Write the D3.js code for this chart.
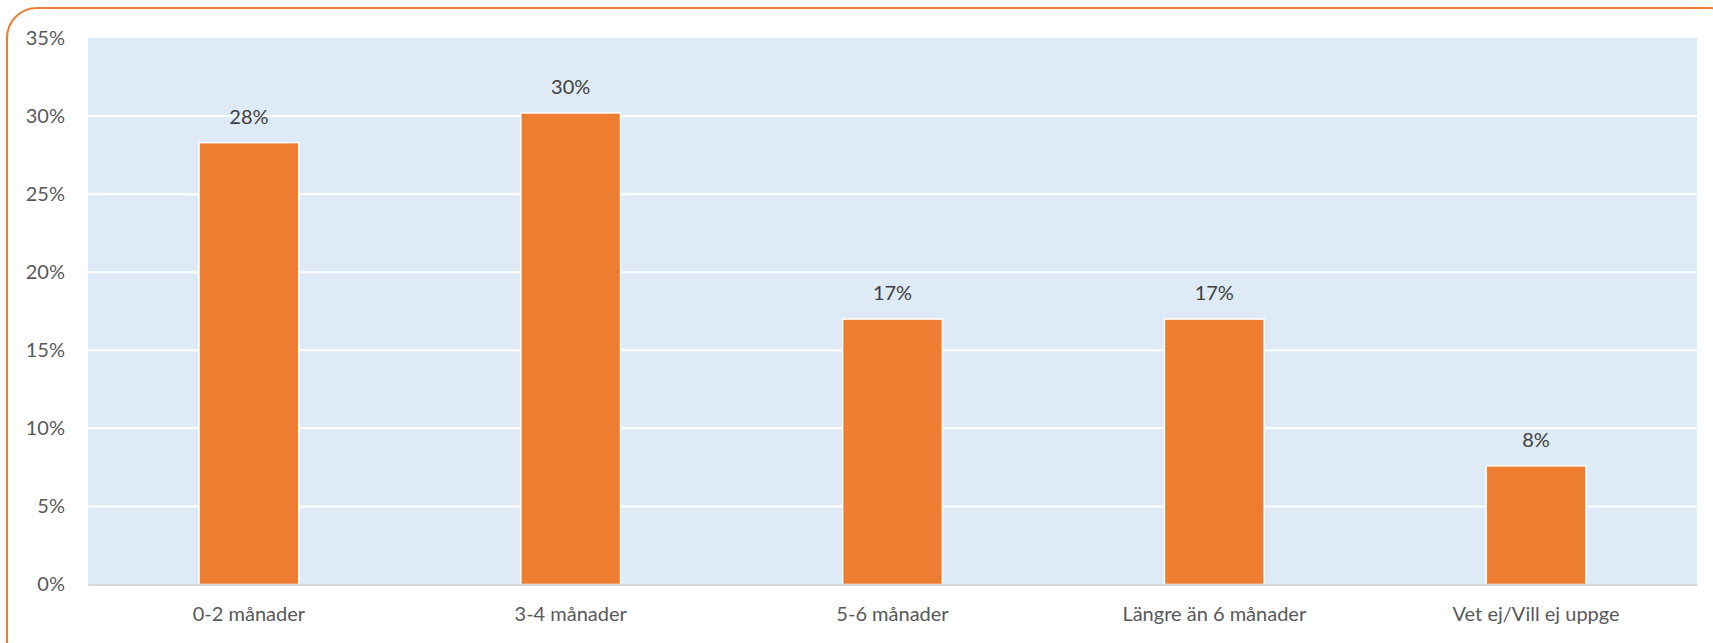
<!DOCTYPE html>
<html>
<head>
<meta charset="utf-8">
<script src="https://cdn.jsdelivr.net/npm/d3@7"></script>
<style>
  html, body { margin: 0; padding: 0; background: #fff; }
  svg { display: block; }
</style>
</head>
<body>
<div id="container"></div>
<script>
const categories = ['0-2 månader', '3-4 månader', '5-6 månader', 'Längre än 6 månader', 'Vet ej/Vill ej uppge'];
const values = [0.283, 0.302, 0.170, 0.170, 0.076];
const yTicks = [0, 0.05, 0.10, 0.15, 0.20, 0.25, 0.30, 0.35];

const width = 1713;
const height = 643;
const margin = { left: 88, right: 16, top: 38, bottom: 58 };
const fontFamily = 'Lato, "Open Sans", sans-serif';

const svg = d3.select('#container').append('svg')
  .attr('width', width)
  .attr('height', height);

// orange rounded frame, runs past right and bottom edges
svg.append('rect')
  .attr('x', 7)
  .attr('y', 8)
  .attr('width', width + 20)
  .attr('height', height + 20)
  .attr('rx', 30)
  .attr('fill', 'none')
  .attr('stroke', '#ED7D31')
  .attr('stroke-width', 2);

const x = d3.scaleBand()
  .domain(categories)
  .range([margin.left, width - margin.right])
  .paddingInner(0.69)
  .paddingOuter(0.345);

const y = d3.scaleLinear()
  .domain([0, 0.35])
  .range([height - margin.bottom - 0.5, margin.top]);

// plot background
svg.append('rect')
  .attr('x', margin.left)
  .attr('y', y(0.35))
  .attr('width', width - margin.right - margin.left)
  .attr('height', y(0) - y(0.35))
  .attr('fill', '#DEEAF6');

// gridlines
svg.append('g')
  .selectAll('line')
  .data(yTicks.filter(d => d > 0 && d < 0.35))
  .join('line')
  .attr('x1', margin.left)
  .attr('x2', width - margin.right)
  .attr('y1', d => y(d))
  .attr('y2', d => y(d))
  .attr('stroke', '#fff')
  .attr('stroke-width', 2);

// y axis labels
const yAxis = d3.axisLeft(y)
  .tickValues(yTicks)
  .tickFormat(d3.format('.0%'))
  .tickSize(0)
  .tickPadding(23);

svg.append('g')
  .attr('transform', `translate(${margin.left},0)`)
  .call(yAxis)
  .call(g => g.select('.domain').remove())
  .selectAll('text')
  .attr('font-family', fontFamily)
  .attr('font-size', 20)
  .attr('fill', '#595959');

// bars
svg.append('g')
  .selectAll('rect')
  .data(values)
  .join('rect')
  .attr('x', (d, i) => x(categories[i]))
  .attr('y', d => y(d))
  .attr('width', x.bandwidth())
  .attr('height', d => y(0) - y(d))
  .attr('fill', '#ED7D31')
  .attr('stroke', '#fff')
  .attr('stroke-width', 1.5);

// value labels
svg.append('g')
  .selectAll('text')
  .data(values)
  .join('text')
  .attr('x', (d, i) => x(categories[i]) + x.bandwidth() / 2)
  .attr('y', d => y(d) - 19)
  .attr('text-anchor', 'middle')
  .attr('font-family', fontFamily)
  .attr('font-size', 20)
  .attr('fill', '#404040')
  .text(d => d3.format('.0%')(d));

// x axis
const xAxis = d3.axisBottom(x)
  .tickSize(0)
  .tickPadding(22);

svg.append('g')
  .attr('transform', `translate(0,${y(0)})`)
  .call(xAxis)
  .call(g => g.select('.domain')
    .attr('stroke', '#D9D9D9')
    .attr('stroke-width', 2))
  .selectAll('text')
  .attr('font-family', fontFamily)
  .attr('font-size', 20)
  .attr('fill', '#595959');
</script>
</body>
</html>
